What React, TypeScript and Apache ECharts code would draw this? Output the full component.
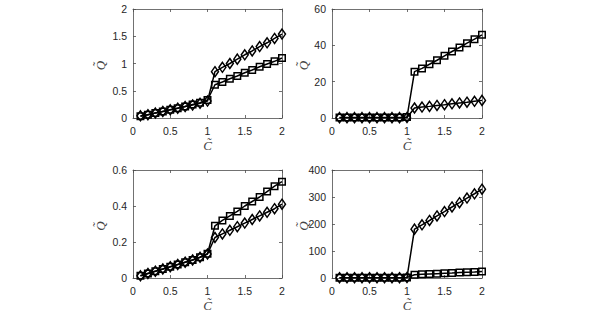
import React, { useEffect, useRef } from "react";
import * as echarts from "echarts";

const cValues = [0.1, 0.2, 0.3, 0.4, 0.5, 0.6, 0.7, 0.8, 0.9, 1.0, 1.1, 1.2, 1.3, 1.4, 1.5, 1.6, 1.7, 1.8, 1.9, 2.0];

// Panel 1 (top-left)
const p1Square = [0.03, 0.06, 0.09, 0.12, 0.15, 0.18, 0.21, 0.25, 0.28, 0.33, 0.61, 0.66, 0.72, 0.77, 0.83, 0.88, 0.94, 0.99, 1.04, 1.1];
const p1Diamond = [0.04, 0.06, 0.09, 0.12, 0.15, 0.18, 0.21, 0.24, 0.27, 0.31, 0.85, 0.93, 1.0, 1.08, 1.16, 1.23, 1.31, 1.38, 1.46, 1.54];
// Panel 2 (top-right)
const p2Square = [0.3, 0.3, 0.3, 0.3, 0.3, 0.3, 0.3, 0.3, 0.3, 0.5, 25.5, 27.3, 29.6, 31.8, 34.2, 36.6, 38.8, 41.2, 43.4, 45.8];
const p2Diamond = [0.2, 0.2, 0.2, 0.2, 0.2, 0.2, 0.2, 0.2, 0.2, 0.3, 5.5, 6.0, 6.4, 6.9, 7.3, 7.8, 8.3, 8.7, 9.2, 9.7];
// Panel 3 (bottom-left)
const p3Square = [0.012, 0.025, 0.038, 0.05, 0.063, 0.075, 0.088, 0.1, 0.115, 0.135, 0.29, 0.32, 0.345, 0.37, 0.4, 0.425, 0.45, 0.48, 0.51, 0.535];
const p3Diamond = [0.012, 0.025, 0.038, 0.05, 0.063, 0.075, 0.088, 0.1, 0.115, 0.133, 0.225, 0.245, 0.265, 0.285, 0.305, 0.325, 0.345, 0.365, 0.385, 0.41];
// Panel 4 (bottom-right)
const p4Square = [1, 1, 1, 1, 1, 1, 1, 1, 1, 2, 12, 13.5, 14.8, 16, 17.3, 18.6, 20, 21.3, 22.6, 24];
const p4Diamond = [1, 1, 1, 1, 1, 1, 1, 1, 1, 2, 181, 197, 213, 230, 246, 263, 279, 296, 312, 329];

const xTicks = { min: 0, max: 2, interval: 0.5 };
const yTicks = [
  { min: 0, max: 2, interval: 0.5 },
  { min: 0, max: 60, interval: 20 },
  { min: 0, max: 0.6, interval: 0.2 },
  { min: 0, max: 400, interval: 100 },
];

const xName = "C\u0303";
const yName = "Q\u0303";

export default function App() {
  const ref = useRef<HTMLDivElement>(null);
  useEffect(() => {
    document.body.style.margin = "0";
    if (!ref.current) return;
    const chart = echarts.init(ref.current, undefined, { renderer: "svg" });

    const grids = [
      { left: 133, top: 9, width: 149, height: 109 },
      { left: 332, top: 9, width: 150, height: 109 },
      { left: 133, top: 170, width: 149, height: 108 },
      { left: 332, top: 170, width: 150, height: 108 },
    ];
    const yNameX = [100, 303, 100, 303];
    const seriesData = [
      [p1Square, p1Diamond],
      [p2Square, p2Diamond],
      [p3Square, p3Diamond],
      [p4Square, p4Diamond],
    ];
    const axisColor = "#4d4d4d";
    const labelStyle = { color: "#262626", fontFamily: "Liberation Sans", fontSize: 10.5 };
    const nameFont = "italic 13px 'Liberation Serif'";

    const xAxis: any[] = [];
    const yAxis: any[] = [];
    const series: any[] = [];
    const graphic: any[] = [];
    grids.forEach((g, i) => {
      const baseTick = { show: true, inside: true, length: 3, lineStyle: { color: axisColor, width: 0.8 } };
      const line = { show: true, onZero: false, lineStyle: { color: axisColor, width: 0.8 } };
      xAxis.push({
        type: "value", gridIndex: i, ...xTicks, position: "bottom",
        axisLine: line, axisTick: baseTick, axisLabel: { ...labelStyle, margin: 7 }, splitLine: { show: false },
      });
      xAxis.push({
        type: "value", gridIndex: i, ...xTicks, position: "top",
        axisLine: line, axisTick: baseTick, axisLabel: { show: false }, splitLine: { show: false },
      });
      yAxis.push({
        type: "value", gridIndex: i, ...yTicks[i], position: "left",
        axisLine: line, axisTick: baseTick, axisLabel: { ...labelStyle, margin: 6 }, splitLine: { show: false },
      });
      yAxis.push({
        type: "value", gridIndex: i, ...yTicks[i], position: "right",
        axisLine: line, axisTick: baseTick, axisLabel: { show: false }, splitLine: { show: false },
      });
      graphic.push({
        type: "text", x: g.left + g.width / 2, y: g.top + g.height + 27,
        style: { text: xName, font: nameFont, fill: "#444", align: "center", verticalAlign: "middle" },
      });
      graphic.push({
        type: "text", x: yNameX[i], y: g.top + g.height / 2 + 2, rotation: Math.PI / 2,
        style: { text: yName, font: nameFont, fill: "#444", align: "center", verticalAlign: "middle" },
      });
      const [sq, di] = seriesData[i];
      const common = {
        type: "line", xAxisIndex: i * 2, yAxisIndex: i * 2,
        lineStyle: { color: "#000", width: 1.5 },
        itemStyle: { color: "transparent", borderColor: "#000", borderWidth: 1.5 },
        showAllSymbol: true, silent: true,
      };
      series.push({ ...common, symbol: "rect", symbolSize: 6.5, data: cValues.map((c, k) => [c, sq[k]]) });
      series.push({ ...common, symbol: "diamond", symbolSize: [7, 10], data: cValues.map((c, k) => [c, di[k]]) });
    });

    chart.setOption({
      animation: false,
      backgroundColor: "#fff",
      grid: grids,
      xAxis,
      yAxis,
      series,
      graphic,
    });
    return () => chart.dispose();
  }, []);
  return <div ref={ref} style={{ width: 598, height: 321 }} />;
}
